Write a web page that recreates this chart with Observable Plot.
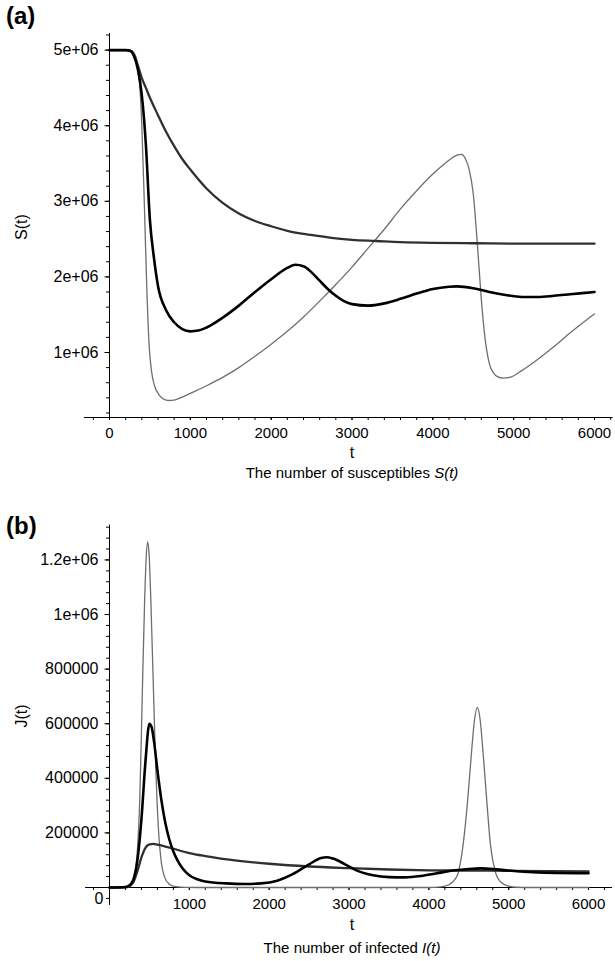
<!DOCTYPE html>
<html><head><meta charset="utf-8">
<script src="https://cdn.jsdelivr.net/npm/d3@7"></script>
<script src="https://cdn.jsdelivr.net/npm/@observablehq/plot@0.6"></script>
<style>
body{margin:0;background:#fff;}
#wrap{position:relative;width:615px;height:961px;font-family:"Liberation Sans",Arial,sans-serif;color:#000;overflow:hidden;}
#wrap svg{position:absolute;left:0;}
.abs{position:absolute;white-space:nowrap;line-height:1;}
</style></head><body><div id="wrap"></div>
<script>
// ---------- Panel (a): S(t) ----------
const tS1 = [0,200,260,300,350,400,450,500,600,700,800,900,1000,1200,1400,1600,1800,2000,2200,2400,2600,2800,3000,3300,3600,4000,4500,5000,5500,6000];
const S1  = [5.0e6,5.0e6,4.99e6,4.94e6,4.8e6,4.63e6,4.5e6,4.37e6,4.14e6,3.92e6,3.73e6,3.56e6,3.42e6,3.17e6,2.98e6,2.84e6,2.74e6,2.67e6,2.61e6,2.57e6,2.54e6,2.51e6,2.49e6,2.475e6,2.46e6,2.45e6,2.445e6,2.44e6,2.44e6,2.44e6];

const tS2 = [0,200,260,300,350,400,450,500,550,600,700,800,900,1000,1100,1200,1400,1600,1800,2000,2200,2300,2400,2500,2600,2700,2800,2900,3000,3200,3400,3600,3800,4000,4200,4300,4500,4700,4900,5100,5300,5500,5700,6000];
const S2  = [5.0e6,5.0e6,4.99e6,4.93e6,4.75e6,4.4e6,3.75e6,2.75e6,2.25e6,1.88e6,1.56e6,1.40e6,1.31e6,1.28e6,1.29e6,1.33e6,1.46e6,1.62e6,1.80e6,1.97e6,2.12e6,2.16e6,2.14e6,2.06e6,1.95e6,1.84e6,1.75e6,1.68e6,1.64e6,1.62e6,1.65e6,1.71e6,1.78e6,1.84e6,1.87e6,1.875e6,1.85e6,1.80e6,1.76e6,1.735e6,1.735e6,1.75e6,1.77e6,1.80e6];

const tS3 = [0,250,300,350,400,430,460,490,520,560,620,700,740,800,900,1000,1200,1400,1600,1800,2000,2200,2400,2600,2800,3000,3200,3400,3600,3800,4000,4150,4300,4350,4400,4450,4500,4550,4600,4650,4700,4750,4800,4870,4950,5100,5300,5500,5700,5900,6000];
const S3  = [5.0e6,5.0e6,4.97e6,4.8e6,4.0e6,3.0e6,1.9e6,1.1e6,0.75e6,0.55e6,0.43e6,0.37e6,0.365e6,0.37e6,0.41e6,0.46e6,0.56e6,0.67e6,0.80e6,0.95e6,1.11e6,1.28e6,1.47e6,1.68e6,1.90e6,2.13e6,2.38e6,2.63e6,2.90e6,3.14e6,3.36e6,3.50e6,3.61e6,3.62e6,3.57e6,3.42e6,3.1e6,2.45e6,1.7e6,1.15e6,0.85e6,0.73e6,0.68e6,0.66e6,0.67e6,0.76e6,0.91e6,1.08e6,1.26e6,1.43e6,1.51e6];

// ---------- Panel (b): J(t) ----------
const tJ1 = [0,200,250,300,350,400,450,500,550,600,700,800,1000,1200,1500,2000,2500,3000,3500,4000,4500,5000,5500,6000];
const J1  = [0,1000,5000,20000,60000,110000,145000,158000,160000,157000,150000,142000,126000,115000,102000,87000,77000,71000,66000,63000,62000,61000,60000,59000];

const tJ2 = [0,200,250,300,350,400,450,500,530,560,600,650,700,750,800,850,900,950,1000,1100,1200,1460,1700,1900,2100,2300,2500,2650,2720,2800,2950,3100,3300,3500,3700,3900,4100,4300,4500,4650,4800,5000,5300,5600,6000];
const J2  = [0,2000,8000,30000,100000,250000,460000,600000,585000,530000,430000,320000,235000,175000,132000,100000,76000,58000,45000,30000,22000,15000,13000,15000,25000,50000,85000,108000,111000,106000,85000,62000,45000,38000,37000,42000,52000,62000,68000,70000,68000,62000,56000,53000,52000];

const tJ3 = [0,200,250,300,350,380,410,440,460,480,498,518,548,578,612,650,690,750,830,950,1200,4000,4150,4250,4350,4430,4480,4530,4570,4605,4640,4680,4730,4770,4830,4900,5000,5100,5250,6000];
const J3  = [0,1000,5000,30000,140000,330000,700000,1050000,1210000,1266000,1210000,1050000,750000,450000,220000,90000,38000,12000,3000,500,0,0,2000,10000,40000,160000,300000,480000,610000,660000,620000,490000,300000,160000,60000,20000,5000,1000,0,0];

// ---------- axes ----------
const tView = [-310, 6230];
const tViewB = [-300, 6300];
const sView = [0.14e6, 5.22e6];
const jView = [0, 1.328e6];
const jAxisBottom = -66000;
const tMajorA = [0,1000,2000,3000,4000,5000,6000];
const tMajorB = [1000,2000,3000,4000,5000,6000];
const tMinor = d3.range(-200, 6201, 200);
const sMajor = [1e6,2e6,3e6,4e6,5e6];
const sMinor = d3.range(0.2e6, 5.21e6, 0.2e6);
const jMajor = [0,200000,400000,600000,800000,1000000,1200000];
const jMinor = d3.range(-40000, 1.321e6, 40000);

const font = '"Liberation Sans", Arial, sans-serif';
const fmtE = d => d >= 1e6 ? (d/1e6) + "e+06" : String(d);

function rows(t, v){ return t.map((x,i)=>({t:x, v:v[i]})); }

const C_GRAY = "#6e6e6e", C_DARK = "#303030", C_BLACK = "#000";

const plotA = Plot.plot({
  width: 615, height: 480,
  marginTop: 33, marginBottom: 63, marginLeft: 109, marginRight: 615 - 109 - 485*6230/6000,
  x: {domain: [0, tView[1]]},
  y: {domain: sView},
  style: {fontFamily: font, fontSize: "16px", color: "#000", background: "transparent", overflow: "visible"},
  marks: [
    Plot.ruleY([sView[0]], {x1: tView[0], x2: tView[1], stroke: "#000", strokeWidth: 1}),
    Plot.ruleX([0], {y1: 0.10e6, y2: sView[1], stroke: "#000", strokeWidth: 1}),
    Plot.axisY({ticks: sMinor, tickSize: 3, tickFormat: () => "", label: null}),
    Plot.axisY({ticks: sMajor, tickSize: 4.5, tickPadding: 6.5, tickFormat: fmtE, fontSize: 16, label: null}),
    Plot.axisX({ticks: tMinor, tickSize: 3, tickFormat: () => "", label: null}),
    Plot.axisX({ticks: tMajorA, tickSize: 3, tickPadding: 6.5, tickFormat: d => String(d), fontSize: 15, label: null}),
    Plot.line(rows(tS3, S3), {x: "t", y: "v", stroke: C_GRAY, strokeWidth: 1.3, curve: "monotone-x"}),
    Plot.line(rows(tS1, S1), {x: "t", y: "v", stroke: C_DARK, strokeWidth: 2.3, curve: "monotone-x"}),
    Plot.line(rows(tS2, S2), {x: "t", y: "v", stroke: C_BLACK, strokeWidth: 2.6, curve: "monotone-x"})
  ]
});

const plotB = Plot.plot({
  width: 615, height: 481,
  marginTop: 44.5, marginBottom: 74, marginLeft: 109, marginRight: 3,
  x: {domain: [0, tViewB[1]]},
  y: {domain: jView},
  style: {fontFamily: font, fontSize: "16px", color: "#000", background: "transparent", overflow: "visible"},
  marks: [
    Plot.ruleY([0], {x1: tViewB[0], x2: tViewB[1], stroke: "#000", strokeWidth: 1}),
    Plot.ruleX([0], {y1: jAxisBottom, y2: jView[1], stroke: "#000", strokeWidth: 1}),
    Plot.axisY({ticks: jMinor, tickSize: 3, tickFormat: () => "", label: null}),
    Plot.axisY({ticks: jMajor, tickSize: 4.5, tickPadding: 6.5, tickFormat: d => d === 0 ? "" : fmtE(d), fontSize: 16, label: null}),
    Plot.axisY({ticks: [0], tickSize: 0, tickPadding: 6, dy: 11, tickFormat: d => String(d), fontSize: 16, label: null}),
    Plot.axisX({ticks: tMinor, tickSize: 3, tickFormat: () => "", label: null}),
    Plot.axisX({ticks: tMajorB, tickSize: 3, tickPadding: 7.5, tickFormat: d => String(d), fontSize: 15, label: null}),
    Plot.line(rows(tJ3, J3), {x: "t", y: "v", stroke: C_GRAY, strokeWidth: 1.3, curve: "monotone-x"}),
    Plot.line(rows(tJ1, J1), {x: "t", y: "v", stroke: C_DARK, strokeWidth: 2.3, curve: "monotone-x"}),
    Plot.line(rows(tJ2, J2), {x: "t", y: "v", stroke: C_BLACK, strokeWidth: 2.6, curve: "monotone-x"})
  ]
});

const wrap = document.getElementById("wrap");
plotA.style.top = "0px";
plotB.style.top = "480px";
wrap.appendChild(plotA);
wrap.appendChild(plotB);

function addText(html, x, y, opts = {}) {
  const d = document.createElement("div");
  d.className = "abs";
  d.innerHTML = html;
  d.style.left = x + "px";
  d.style.top = y + "px";
  d.style.fontSize = (opts.size || 15) + "px";
  if (opts.bold) d.style.fontWeight = "bold";
  d.style.transform = (opts.anchor === "left" ? "translate(0,-50%)" : "translate(-50%,-50%)") + (opts.rotate ? " rotate(-90deg)" : "");
  wrap.appendChild(d);
}
addText("(a)", 6, 16, {size: 24, bold: true, anchor: "left"});
addText("(b)", 6, 526, {size: 24, bold: true, anchor: "left"});
addText("S(t)", 22, 227, {size: 16, rotate: true});
addText("J(t)", 22, 716, {size: 16, rotate: true});
addText("t", 352, 453, {size: 16});
addText("The number of susceptibles <i>S(t)</i>", 352, 472, {size: 15});
addText("t", 352, 925, {size: 16});
addText("The number of infected <i>I(t)</i>", 352, 947, {size: 15});
</script>
</body></html>
